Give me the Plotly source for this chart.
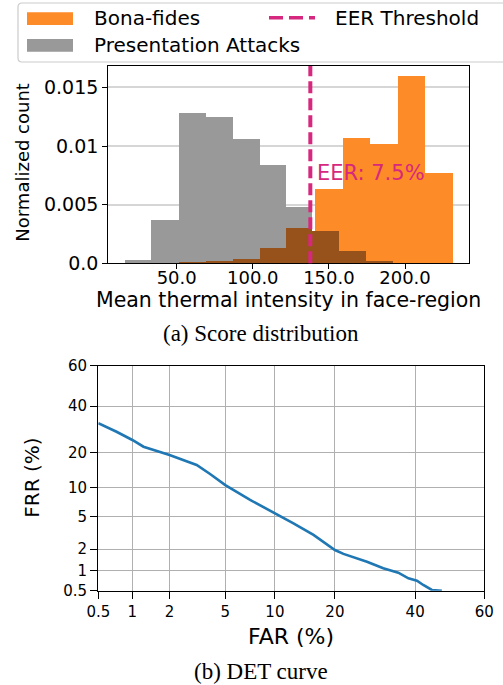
import plotly.graph_objects as go
from statistics import NormalDist

# ---------------- data ----------------
# Histogram (a): bin edges and normalized heights
attack_edges = [16.0, 33.6, 51.4, 69.2, 86.9, 104.6, 121.8, 139.3]
attack_heights = [0.0003, 0.0037, 0.0128, 0.0125, 0.0106, 0.0084, 0.0048]

bonafide_edges = [141.3, 159.2, 177.4, 195.3, 213.2, 231.6]
bonafide_heights = [0.0063, 0.0107, 0.0102, 0.0160, 0.0077]

overlap_edges = [51.4, 69.2, 86.9, 104.6, 122.0, 139.3, 157.0, 174.7, 192.4]
overlap_heights = [0.0001, 0.0002, 0.00037, 0.0013, 0.0030, 0.00275, 0.00105, 0.0002]

eer_threshold = 137.8
eer_label = "EER: 7.5%"
eer_label_y = 0.0077

hist_xticks = [50, 100, 150, 200]
hist_xticklabels = ["50.0", "100.0", "150.0", "200.0"]
hist_yticks = [0.0, 0.005, 0.01, 0.015]
hist_yticklabels = ["0.0", "0.005", "0.01", "0.015"]

# DET curve (b): FAR (%) vs FRR (%)
far = [0.5, 0.73, 1.0, 1.24, 2.0, 2.54, 3.18, 3.95, 5.0, 7.17, 10.0, 12.6, 15.9,
       20.0, 21.8, 27.2, 31.3, 35.3, 38.1, 40.5, 42.3, 44.8, 47.7]
frr = [31.9, 28.2, 24.8, 22.2, 19.2, 17.6, 16.0, 13.4, 10.6, 7.57, 5.46, 4.2, 3.04,
       1.95, 1.73, 1.35, 1.09, 0.94, 0.776, 0.714, 0.614, 0.513, 0.5]
det_ticks = [0.5, 1, 2, 5, 10, 20, 40, 60]
det_ticklabels = ["0.5", "1", "2", "5", "10", "20", "40", "60"]

# ---------------- helpers ----------------
W, H = 503, 685
ND = NormalDist()


def probit(pct):
    return ND.inv_cdf(pct / 100.0)


def px(x):
    return x / W


def py(y):
    return 1 - y / H


def centers(edges):
    return [(a + b) / 2 for a, b in zip(edges[:-1], edges[1:])]


def widths(edges):
    return [b - a for a, b in zip(edges[:-1], edges[1:])]


ORANGE = "#FD8B27"
GRAY = "#999999"
BROWN = "#97511A"
MAGENTA = "#D6287E"
BLUE = "#1f77b4"
SANS = "DejaVu Sans"
SERIF = "Liberation Serif"

fig = go.Figure()

fig.add_trace(go.Bar(x=centers(attack_edges), y=attack_heights, width=widths(attack_edges),
                     marker=dict(color=GRAY, line=dict(width=0)), showlegend=False,
                     xaxis="x", yaxis="y"))
fig.add_trace(go.Bar(x=centers(bonafide_edges), y=bonafide_heights, width=widths(bonafide_edges),
                     marker=dict(color=ORANGE, line=dict(width=0)), showlegend=False,
                     xaxis="x", yaxis="y"))
fig.add_trace(go.Bar(x=centers(overlap_edges), y=overlap_heights, width=widths(overlap_edges),
                     marker=dict(color=BROWN, line=dict(width=0)), showlegend=False,
                     xaxis="x", yaxis="y"))

fig.add_trace(go.Scatter(x=[probit(v) for v in far], y=[probit(v) for v in frr],
                         mode="lines", line=dict(color=BLUE, width=2.6),
                         showlegend=False, xaxis="x2", yaxis="y2"))

# EER threshold line
fig.add_shape(type="line", xref="x", yref="y domain", x0=eer_threshold, x1=eer_threshold,
              y0=0, y1=1, line=dict(color=MAGENTA, width=4, dash="12px,5px"), layer="above")

axis_common = dict(showline=True, mirror=True, linecolor="black", linewidth=1.3,
                   ticks="outside", tickcolor="black", zeroline=False, automargin=False)

fig.update_layout(
    template="none",
    width=W, height=H,
    margin=dict(l=0, r=0, t=0, b=0, pad=0, autoexpand=False),
    paper_bgcolor="white", plot_bgcolor="white",
    barmode="overlay", bargap=0,
    showlegend=False,
    font=dict(family=SANS, color="black"),
    xaxis=dict(domain=[px(108.3), px(469)], anchor="y", range=[5.06, 242.05],
               tickvals=hist_xticks, ticktext=hist_xticklabels, ticklen=5,
               ticklabelstandoff=-7,
               showgrid=False, tickfont=dict(size=18, family=SANS), **axis_common),
    yaxis=dict(domain=[py(263.3), py(66)], anchor="x", range=[0, 0.01682],
               tickvals=hist_yticks, ticktext=hist_yticklabels, ticklen=5,
               showgrid=True, gridcolor="#d6d6d6", gridwidth=1.5,
               tickfont=dict(size=19, family=SANS), **axis_common),
    xaxis2=dict(domain=[px(98.3), px(484.3)], anchor="y2",
                range=[probit(det_ticks[0]), probit(det_ticks[-1])],
                tickvals=[probit(v) for v in det_ticks], ticktext=det_ticklabels, ticklen=7,
                showgrid=True, gridcolor="#b0b0b0", gridwidth=1,
                tickfont=dict(size=15, family=SANS), **axis_common),
    yaxis2=dict(domain=[py(590.7), py(365.7)], anchor="x2",
                range=[probit(det_ticks[0]), probit(det_ticks[-1])],
                tickvals=[probit(v) for v in det_ticks], ticktext=det_ticklabels, ticklen=7,
                showgrid=True, gridcolor="#b0b0b0", gridwidth=1,
                tickfont=dict(size=15, family=SANS), **axis_common),
)

annotations = [
    dict(text=eer_label, x=eer_threshold, y=eer_label_y, xref="x", yref="y",
         xanchor="left", yanchor="middle", xshift=5, showarrow=False,
         font=dict(size=21, color=MAGENTA, family=SANS)),
    dict(text="Mean thermal intensity in face-region", x=px(288.7), y=py(300),
         xref="paper", yref="paper", xanchor="center", yanchor="middle", showarrow=False,
         font=dict(size=20.5, family=SANS)),
    dict(text="Normalized count", x=px(21.7), y=py(162), textangle=-90,
         xref="paper", yref="paper", xanchor="center", yanchor="middle", showarrow=False,
         font=dict(size=18, family=SANS)),
    dict(text="(a) Score distribution", x=px(260.5), y=py(333),
         xref="paper", yref="paper", xanchor="center", yanchor="middle", showarrow=False,
         font=dict(size=23, family=SERIF)),
    dict(text="FAR (%)", x=px(291), y=py(636),
         xref="paper", yref="paper", xanchor="center", yanchor="middle", showarrow=False,
         font=dict(size=22, family=SANS)),
    dict(text="FRR (%)", x=px(31.7), y=py(478), textangle=-90,
         xref="paper", yref="paper", xanchor="center", yanchor="middle", showarrow=False,
         font=dict(size=20, family=SANS)),
    dict(text="(b) DET curve", x=px(261), y=py(671),
         xref="paper", yref="paper", xanchor="center", yanchor="middle", showarrow=False,
         font=dict(size=23, family=SERIF)),
    # legend texts
    dict(text="Bona-fides", x=px(92), y=py(18.5), xref="paper", yref="paper",
         xanchor="left", yanchor="middle", showarrow=False, font=dict(size=20, family=SANS)),
    dict(text="Presentation Attacks", x=px(92), y=py(45), xref="paper", yref="paper",
         xanchor="left", yanchor="middle", showarrow=False, font=dict(size=20, family=SANS)),
    dict(text="EER Threshold", x=px(333), y=py(18.5), xref="paper", yref="paper",
         xanchor="left", yanchor="middle", showarrow=False, font=dict(size=20, family=SANS)),
]
fig.update_layout(annotations=annotations)

# manual legend frame and keys (matplotlib-like)
x0, x1, y0, y1, r = px(18), px(515), py(3), py(62), 4
rx, ry = r / W, r / H
path = (f"M {x0+rx},{y0} L {x1-rx},{y0} Q {x1},{y0} {x1},{y0-ry} "
        f"L {x1},{y1+ry} Q {x1},{y1} {x1-rx},{y1} L {x0+rx},{y1} "
        f"Q {x0},{y1} {x0},{y1+ry} L {x0},{y0-ry} Q {x0},{y0} {x0+rx},{y0} Z")
fig.add_shape(type="path", path=path, xref="paper", yref="paper",
              line=dict(color="#cccccc", width=1.2), fillcolor="rgba(255,255,255,0.8)", layer="above")
fig.add_shape(type="rect", xref="paper", yref="paper", x0=px(27), x1=px(73), y0=py(25), y1=py(12.3),
              fillcolor=ORANGE, line=dict(width=0), layer="above")
fig.add_shape(type="rect", xref="paper", yref="paper", x0=px(27), x1=px(73), y0=py(51.7), y1=py(39),
              fillcolor=GRAY, line=dict(width=0), layer="above")
fig.add_shape(type="line", xref="paper", yref="paper", x0=px(269), x1=px(315), y0=py(17.7), y1=py(17.7),
              line=dict(color=MAGENTA, width=3.5, dash="14px,6px"), layer="above")

# remove the browser's default page margin so the figure sits at the window origin
fig.write_html("out.html", config={"displayModeBar": False},
               post_script="document.body.style.margin='0';")
